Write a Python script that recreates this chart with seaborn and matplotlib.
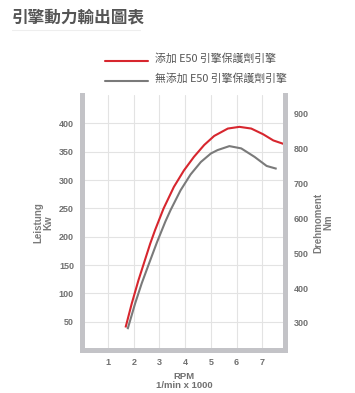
import pandas as pd
import matplotlib.pyplot as plt
import seaborn as sns

# Data (RPM x 1000 vs power kW)
rpm_e50 = [1.68, 1.92, 2.18, 2.64, 2.83, 3.16, 3.56, 3.95, 4.34, 4.74, 5.13,
           5.66, 6.11, 6.57, 7.03, 7.43, 7.82]
kw_e50 = [40, 82, 123, 188, 212, 250, 288, 317, 341, 362, 378,
          391, 394, 391, 381, 370, 364]
rpm_plain = [1.76, 2.05, 2.31, 2.57, 2.90, 3.23, 3.43, 3.82, 4.21, 4.61, 5.0, 5.26,
             5.72, 6.18, 6.70, 7.17, 7.56]
kw_plain = [37, 82, 118, 150, 190, 227, 247, 282, 310, 332, 347, 353,
            360, 356, 341, 325, 320]

series_names = ["添加 E50 引擎保護劑引擎", "無添加 E50 引擎保護劑引擎"]
x_ticks = [1, 2, 3, 4, 5, 6, 7]
left_ticks = [50, 100, 150, 200, 250, 300, 350, 400]
right_ticks = [300, 400, 500, 600, 700, 800, 900]

df = pd.concat([
    pd.DataFrame({"rpm": rpm_e50, "kw": kw_e50, "series": series_names[0]}),
    pd.DataFrame({"rpm": rpm_plain, "kw": kw_plain, "series": series_names[1]}),
])

sns.set_style("white")
plt.rcParams['font.family'] = ['Noto Sans CJK TC', 'DejaVu Sans']

fig = plt.figure(figsize=(3.55, 3.93), dpi=100)
ax = fig.add_axes([0.232, 0.109, 0.572, 0.649])

colors = {series_names[0]: "#d7262e", series_names[1]: "#7a7a7a"}
sns.lineplot(data=df, x="rpm", y="kw", hue="series", palette=colors,
             sort=False, linewidth=1.5, legend=False, ax=ax,
             solid_joinstyle='round', solid_capstyle='butt')

ax.set_xlim(0, 7.9)
ax.set_ylim(0, 450)
ax.set_xticks(x_ticks)
ax.set_yticks(left_ticks)
ax.grid(True, color="#e3e3e3", linewidth=0.8)
ax.set_axisbelow(True)

spine_col = "#c3c3c7"
for side in ["left", "right", "bottom"]:
    ax.spines[side].set_color(spine_col)
    ax.spines[side].set_linewidth(3.6)
ax.spines["top"].set_visible(False)

tick_font = dict(family=['Liberation Sans', 'DejaVu Sans'], weight='bold', size=6.5, color="#707070")
ax.tick_params(length=0, pad=6)
for lab in ax.get_xticklabels() + ax.get_yticklabels():
    lab.set(**tick_font)

ax.set_xlabel("RPM\n1/min x 1000", fontsize=6.8, color="#707070", fontweight='bold',
              family=['Liberation Sans', 'DejaVu Sans'], labelpad=3, linespacing=1.1)
ax.set_ylabel("Leistung\nKw", fontsize=7, color="#7a7a7a", fontweight='bold',
              family=['Liberation Sans', 'DejaVu Sans'], labelpad=4, linespacing=1.0)

# right axis (torque)
ax2 = ax.twinx()
ax2.set_ylim(222, 953)
ax2.set_yticks(right_ticks)
for s in ax2.spines.values():
    s.set_visible(False)
ax2.tick_params(length=0, pad=6)
for lab in ax2.get_yticklabels():
    lab.set(**tick_font)
ax2.set_ylabel("Drehmoment\nNm", fontsize=7, color="#7a7a7a", fontweight='bold',
               family=['Liberation Sans', 'DejaVu Sans'], labelpad=3, linespacing=1.0)

# title
fig.text(12 / 355, 1 - 18 / 393, "引擎動力輸出圖表", fontsize=12, color="#555555",
         fontweight='bold', va='center', ha='left')
fig.add_artist(plt.Line2D([12 / 355, 140 / 355], [1 - 30 / 393] * 2, color="#eeeeee", linewidth=0.8))

# legend drawn manually
for i, name in enumerate(series_names):
    yy = 1 - (61 + 20 * i) / 393
    fig.add_artist(plt.Line2D([105 / 355, 148 / 355], [yy, yy], color=colors[name], linewidth=1.5))
    fig.text(155 / 355, yy + 3 / 393, name, fontsize=7.8, color="#555555", va='center', ha='left')

fig.savefig("out.png", dpi=100)
